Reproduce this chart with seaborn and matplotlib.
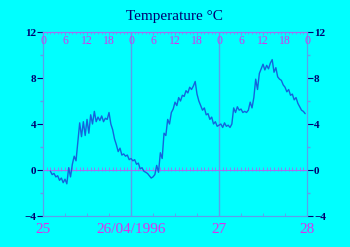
import numpy as np
import pandas as pd
import matplotlib
matplotlib.use("Agg")
import matplotlib.pyplot as plt
import seaborn as sns

# Half-hourly temperature readings (°C)
day25 = [-0.1, -0.4, -0.3, -0.6, -0.5, -0.9, -0.7, -1.1, -0.8, -1.2, 0.2, -0.6,
         0.5, 1.2, 0.8, 2.5, 4.1, 2.9, 4.2, 3.0, 4.4, 3.2, 4.8, 4.0, 5.1, 4.2,
         4.6, 4.3, 4.7, 4.2, 4.5, 4.4, 5.0, 4.0, 3.5, 2.7, 2.2, 1.6, 1.9, 1.3,
         1.4, 1.2, 1.3, 0.9]
day26 = [1.0, 0.8, 0.9, 0.5, 0.6, 0.1, 0.2, -0.1, -0.2, -0.3, -0.5, -0.7,
         -0.6, -0.4, 0.4, -0.2, 1.5, 1.0, 3.2, 3.0, 4.4, 4.0, 5.0, 5.3, 5.9,
         5.6, 6.3, 6.0, 6.5, 6.4, 6.9, 6.7, 7.2, 7.0, 7.3, 7.7, 6.6, 6.0, 5.6,
         5.2, 5.4, 4.8, 4.9, 4.4, 4.6, 4.0, 4.2, 3.8]
day27 = [3.9, 4.0, 3.7, 4.1, 3.8, 3.9, 3.7, 4.0, 5.4, 5.0, 5.5, 5.2, 5.3,
         5.0, 5.1, 5.0, 5.2, 5.9, 5.4, 6.3, 7.9, 7.0, 8.4, 8.8, 9.2, 8.7, 9.1,
         8.8, 9.3, 9.6, 8.5, 8.9, 8.1, 7.9, 7.8, 7.4, 7.2, 6.8, 7.0, 6.5, 6.6,
         6.1, 6.3, 5.8, 5.5, 5.2, 5.1, 4.9]
start_hour = 2.0  # first reading on 25/04/1996 at 02:00

day_labels = ["25", "26/04/1996", "27", "28"]
hour_labels = ["0", "6", "12", "18"]
y_ticks = [-4, 0, 4, 8, 12]
title = "Temperature \u00b0C"

temps = day25 + day26 + day27
hours = start_hour + 0.5 * np.arange(len(temps))
df = pd.DataFrame({"hour": hours, "temp": temps})

CYAN = "#00FFFF"
LINE = "#1464DC"
SPINE = "#5AA0EC"
PURPLE = "#A070F0"
MAGENTA = "#DC30EC"
NAVY = "#000070"

sns.set_theme(style="white")
plt.rcParams["font.family"] = ["Liberation Serif", "DejaVu Serif"]

fig = plt.figure(figsize=(3.5, 2.47), dpi=100, facecolor=CYAN)
ax = fig.add_axes([0.1229, 0.1255, 0.7543, 0.7449])
ax.set_facecolor(CYAN)

# grid: day boundaries and zero line
for d in (24, 48):
    ax.axvline(d, color=SPINE, lw=1.0, zorder=1)
ax.axhline(0, color=PURPLE, lw=0.8, zorder=1)
hr = np.arange(1, 72)
ax.plot(hr, np.zeros_like(hr) + 0.08, ls="none", marker="|", ms=2.5, mew=0.6,
        color=PURPLE, zorder=1)

sns.lineplot(data=df, x="hour", y="temp", ax=ax, color=LINE, lw=1.0,
             zorder=3, legend=False)

ax.set_xlim(0, 72)
ax.set_ylim(-4, 12)
ax.set_xlabel("")
ax.set_ylabel("")

# bottom axis: days
ax.set_xticks([0, 24, 48, 72])
ax.set_xticklabels(day_labels)
ax.set_xticks(np.arange(0, 73, 6), minor=True)
ax.tick_params(axis="x", which="major", direction="out", length=0,
               labelsize=11, labelcolor=MAGENTA, pad=5)
ax.tick_params(axis="x", which="minor", direction="in", length=2.5,
               color=SPINE, width=0.6)

# y axis both sides
ax.set_yticks(y_ticks)
ax.set_yticks(np.arange(-4, 13, 2), minor=True)
ax.tick_params(axis="y", which="major", direction="out", length=4, width=0.8,
               color=NAVY, labelsize=8, labelcolor=NAVY, left=True,
               right=True, labelleft=True, labelright=True, pad=1)
ax.tick_params(axis="y", which="minor", direction="out", length=2,
               color=SPINE, left=True, right=True)
for lab in ax.get_yticklabels():
    lab.set_fontweight("bold")

for side in ("left", "right", "bottom"):
    ax.spines[side].set_color(SPINE)
    ax.spines[side].set_linewidth(0.9)
ax.spines["top"].set_color(PURPLE)
ax.spines["top"].set_linewidth(0.9)

# top axis: hours
top = ax.twiny()
top.set_xlim(0, 72)
top.set_xticks(np.arange(0, 73, 6))
top.set_xticks(np.arange(0, 73, 1), minor=True)
top.tick_params(axis="x", which="major", direction="in", length=2,
                color=PURPLE, width=0.6, labeltop=False, labelbottom=False,
                top=True, bottom=False)
top.tick_params(axis="x", which="minor", direction="in", length=1.5,
                color=PURPLE, width=0.5, top=True, bottom=False)
for spine in top.spines.values():
    spine.set_visible(False)
top.grid(False)
# hour labels drawn just inside the top edge
for x, lab in zip(np.arange(0, 73, 6), hour_labels * 3 + ["0"]):
    ax.text(x, 11.2, lab, ha="center", va="center", fontsize=8.5,
            color=MAGENTA, zorder=4)

fig.text(0.497, 0.935, title, ha="center", va="center", fontsize=11,
         color=NAVY)

fig.savefig("out.png", dpi=100, facecolor=CYAN)
